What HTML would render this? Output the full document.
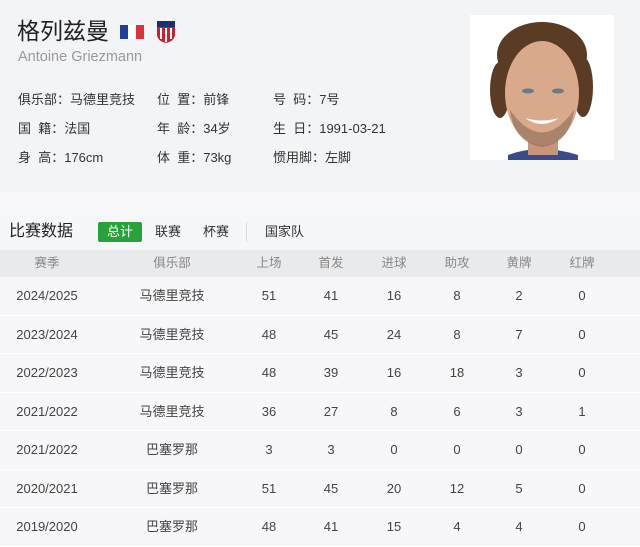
<!DOCTYPE html>
<html><head><meta charset="utf-8"><style>
*{margin:0;padding:0;box-sizing:border-box}
body{width:640px;height:544px;overflow:hidden;background:#fff;font-family:"Liberation Sans","Noto Sans CJK SC",sans-serif;position:relative;color:#333}
.a{position:absolute;white-space:nowrap}
#top{position:absolute;left:0;top:0;width:640px;height:192px;background:#f3f4f6}
#band{position:absolute;left:0;top:192px;width:640px;height:20px;background:#f8f8fa}
#stats{position:absolute;left:0;top:212px;width:640px;height:332px;background:#f6f7f9}
.info{font-size:13px;color:#333;line-height:16px}
.hdr{position:absolute;left:0;top:250px;width:640px;height:27px;background:#e9eaec}
.row{position:absolute;left:0;width:640px;height:38.5px;background:#f7f7f9;border-bottom:1.5px solid #fff}
.c{position:absolute;top:0;text-align:center;width:90px;margin-left:-45px;font-size:13px;color:#444;line-height:37px}
.hdr .c{line-height:27px}
.h{color:#888;font-size:12.5px}
</style></head><body>
<div id="top"></div><div id="band"></div><div id="stats"></div>
<div class="a" style="left:17px;top:18px;font-size:23px;line-height:27px;color:#222">格列兹曼</div>
<div class="a" style="left:120px;top:25px;width:8px;height:14px;background:#1f3f99"></div>
<div class="a" style="left:128px;top:25px;width:8px;height:14px;background:#fff"></div>
<div class="a" style="left:136px;top:25px;width:8px;height:14px;background:#e0303a"></div>
<svg class="a" style="left:156px;top:20px" width="20" height="24" viewBox="0 0 20 24"><path d="M1 1H19V14Q19 21 10 23Q1 21 1 14Z" fill="#c8202e"/><path d="M1 1H19V7H1Z" fill="#1c2f6e"/><path d="M5 8V19M10 8V22M15 8V19" stroke="#fff" stroke-width="2"/></svg>
<div class="a" style="left:18px;top:48px;font-size:14.5px;line-height:18px;color:#999">Antoine Griezmann</div>
<div class="a info" style="left:18px;top:92px">俱乐部：马德里竞技</div>
<div class="a info" style="left:157px;top:92px">位&nbsp;&nbsp;置：前锋</div>
<div class="a info" style="left:273px;top:92px">号&nbsp;&nbsp;码：7号</div>
<div class="a info" style="left:18px;top:121px">国&nbsp;&nbsp;籍：法国</div>
<div class="a info" style="left:157px;top:121px">年&nbsp;&nbsp;龄：34岁</div>
<div class="a info" style="left:273px;top:121px">生&nbsp;&nbsp;日：1991-03-21</div>
<div class="a info" style="left:18px;top:150px">身&nbsp;&nbsp;高：176cm</div>
<div class="a info" style="left:157px;top:150px">体&nbsp;&nbsp;重：73kg</div>
<div class="a info" style="left:273px;top:150px">惯用脚：左脚</div>
<svg class="a" style="left:470px;top:15px" width="144" height="145" viewBox="0 0 144 145">
<rect width="144" height="145" fill="#fff"/>
<path d="M38 140Q70 128 108 140V145H38Z" fill="#3a4a8a"/>
<rect x="58" y="110" width="30" height="30" fill="#c9957a"/>
<ellipse cx="72" cy="40" rx="45" ry="33" fill="#5a3b24"/>
<ellipse cx="30" cy="75" rx="10" ry="28" fill="#5a3b24"/>
<ellipse cx="113" cy="72" rx="10" ry="30" fill="#5a3b24"/>
<ellipse cx="72" cy="78" rx="37" ry="52" fill="#d9a98c"/>
<path d="M40 95Q72 140 104 95Q100 128 72 132Q44 128 40 95Z" fill="#8a6a55" opacity=".6"/>
<path d="M55 103Q72 115 89 103Q72 108 55 103Z" fill="#fff"/>
<ellipse cx="58" cy="76" rx="6" ry="2.5" fill="#6a7a8a"/><ellipse cx="88" cy="76" rx="6" ry="2.5" fill="#6a7a8a"/>
</svg>
<div class="a" style="left:9px;top:222px;font-size:16px;line-height:20px;color:#222">比赛数据</div>
<div class="a" style="left:98px;top:222px;width:44px;height:20px;background:#27a33a;border-radius:2px;color:#fff;font-size:13px;text-align:center;line-height:20px">总计</div>
<div class="a" style="left:155px;top:222px;font-size:13px;line-height:20px;color:#333">联赛</div>
<div class="a" style="left:203px;top:222px;font-size:13px;line-height:20px;color:#333">杯赛</div>
<div class="a" style="left:246px;top:222px;width:1px;height:20px;background:#ddd"></div>
<div class="a" style="left:265px;top:222px;font-size:13px;line-height:20px;color:#333">国家队</div>
<div class="hdr">
<div class="c h" style="left:47px">赛季</div><div class="c h" style="left:172px">俱乐部</div><div class="c h" style="left:269px">上场</div><div class="c h" style="left:331px">首发</div><div class="c h" style="left:394px">进球</div><div class="c h" style="left:457px">助攻</div><div class="c h" style="left:519px">黄牌</div><div class="c h" style="left:582px">红牌</div>
</div>
<div class="row" style="top:277px"><div class="c" style="left:47px">2024/2025</div><div class="c" style="left:172px">马德里竞技</div><div class="c" style="left:269px">51</div><div class="c" style="left:331px">41</div><div class="c" style="left:394px">16</div><div class="c" style="left:457px">8</div><div class="c" style="left:519px">2</div><div class="c" style="left:582px">0</div></div>
<div class="row" style="top:315.5px"><div class="c" style="left:47px">2023/2024</div><div class="c" style="left:172px">马德里竞技</div><div class="c" style="left:269px">48</div><div class="c" style="left:331px">45</div><div class="c" style="left:394px">24</div><div class="c" style="left:457px">8</div><div class="c" style="left:519px">7</div><div class="c" style="left:582px">0</div></div>
<div class="row" style="top:354px"><div class="c" style="left:47px">2022/2023</div><div class="c" style="left:172px">马德里竞技</div><div class="c" style="left:269px">48</div><div class="c" style="left:331px">39</div><div class="c" style="left:394px">16</div><div class="c" style="left:457px">18</div><div class="c" style="left:519px">3</div><div class="c" style="left:582px">0</div></div>
<div class="row" style="top:392.5px"><div class="c" style="left:47px">2021/2022</div><div class="c" style="left:172px">马德里竞技</div><div class="c" style="left:269px">36</div><div class="c" style="left:331px">27</div><div class="c" style="left:394px">8</div><div class="c" style="left:457px">6</div><div class="c" style="left:519px">3</div><div class="c" style="left:582px">1</div></div>
<div class="row" style="top:431px"><div class="c" style="left:47px">2021/2022</div><div class="c" style="left:172px">巴塞罗那</div><div class="c" style="left:269px">3</div><div class="c" style="left:331px">3</div><div class="c" style="left:394px">0</div><div class="c" style="left:457px">0</div><div class="c" style="left:519px">0</div><div class="c" style="left:582px">0</div></div>
<div class="row" style="top:469.5px"><div class="c" style="left:47px">2020/2021</div><div class="c" style="left:172px">巴塞罗那</div><div class="c" style="left:269px">51</div><div class="c" style="left:331px">45</div><div class="c" style="left:394px">20</div><div class="c" style="left:457px">12</div><div class="c" style="left:519px">5</div><div class="c" style="left:582px">0</div></div>
<div class="row" style="top:508px"><div class="c" style="left:47px">2019/2020</div><div class="c" style="left:172px">巴塞罗那</div><div class="c" style="left:269px">48</div><div class="c" style="left:331px">41</div><div class="c" style="left:394px">15</div><div class="c" style="left:457px">4</div><div class="c" style="left:519px">4</div><div class="c" style="left:582px">0</div></div>
</body></html>
